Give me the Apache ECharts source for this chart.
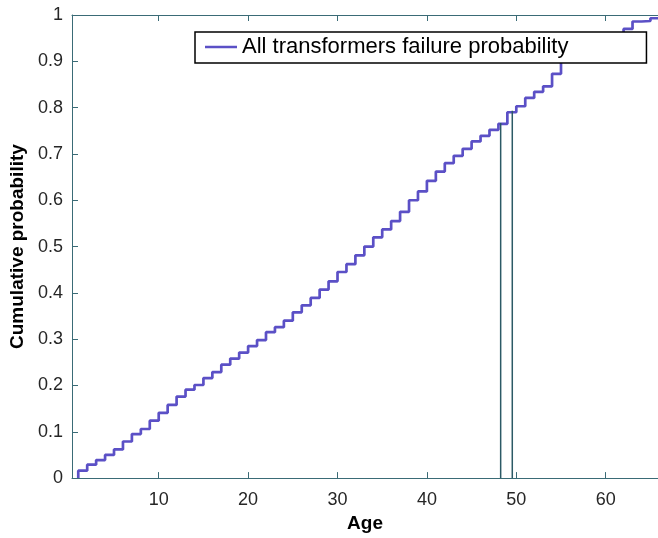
<!DOCTYPE html>
<html>
<head>
<meta charset="utf-8">
<script src="https://cdn.jsdelivr.net/npm/echarts@6/dist/echarts.min.js"></script>
<style>html,body{margin:0;padding:0;background:#fff}#c{width:658px;height:538px}</style>
</head>
<body>
<div id="c"></div>
<script>
// ---- data ----
const ages = [1,2,3,4,5,6,7,8,9,10,11,12,13,14,15,16,17,18,19,20,21,22,23,24,25,26,27,28,29,30,31,32,33,34,35,36,37,38,39,40,41,42,43,44,45,46,47,48,49,50,51,52,53,54,55,56,57,58,59,60,61,62,63,64,65,66];
const cumProb = [0.016,0.029,0.039,0.050,0.062,0.079,0.095,0.106,0.124,0.141,0.158,0.176,0.191,0.201,0.216,0.229,0.245,0.258,0.271,0.285,0.298,0.315,0.326,0.340,0.358,0.373,0.389,0.407,0.425,0.445,0.462,0.481,0.500,0.520,0.537,0.555,0.575,0.600,0.619,0.642,0.662,0.680,0.696,0.711,0.727,0.739,0.752,0.765,0.790,0.803,0.821,0.834,0.846,0.873,0.905,0.915,0.925,0.935,0.945,0.952,0.960,0.970,0.986,0.987,0.993,0.993];
const markerAges = [48.25, 49.55];
const markerTops = [0.767, 0.793];
const xTickValues = [10,20,30,40,50,60];
const seriesName = 'All transformers failure probability';

const stairData = [[ages[0], 0]].concat(ages.map((a, i) => [a, cumProb[i]]));
const font = 'Liberation Sans, Arial, sans-serif';
const axisCol = '#3a6b76';
const vlineSeries = markerAges.map((a, i) => ({
  type: 'line', symbol: 'none', silent: true,
  data: [[a, 0], [a, markerTops[i]]],
  lineStyle: { color: '#2c5a66', width: 1.5 },
  z: 3
}));

const chart = echarts.init(document.getElementById('c'));
chart.setOption({
  animation: false,
  backgroundColor: '#fff',
  grid: { left: 72, top: 15, right: 0, bottom: 56 },
  legend: {
    data: [seriesName],
    left: 195, top: 32,
    padding: [4, 78, 5, 10],
    itemWidth: 32, itemHeight: 2.5,
    icon: 'rect',
    backgroundColor: '#fff',
    borderColor: '#000', borderWidth: 1.5, borderRadius: 0,
    textStyle: { fontFamily: font, fontSize: 22, color: '#000' }
  },
  xAxis: [{
    type: 'value', min: 0.3, max: 65.85,
    name: 'Age', nameLocation: 'middle', nameGap: 35,
    nameTextStyle: { fontFamily: font, fontSize: 19, fontWeight: 'bold', color: '#000' },
    axisLine: { show: true, lineStyle: { color: axisCol, width: 1 } },
    axisTick: { show: true, inside: true, length: 6, customValues: xTickValues, lineStyle: { color: axisCol } },
    axisLabel: { customValues: xTickValues, fontFamily: font, fontSize: 18, color: '#262626', margin: 13 },
    splitLine: { show: false }
  }, {
    type: 'value', position: 'top', min: 0.3, max: 65.85,
    axisLine: { show: true, lineStyle: { color: axisCol, width: 1 } },
    axisTick: { show: true, inside: true, length: 6, customValues: xTickValues, lineStyle: { color: axisCol } },
    axisLabel: { show: false },
    splitLine: { show: false }
  }],
  yAxis: {
    type: 'value', min: 0, max: 1, interval: 0.1,
    name: 'Cumulative probability', nameLocation: 'middle', nameGap: 37,
    nameTextStyle: { fontFamily: font, fontSize: 19, fontWeight: 'bold', color: '#000' },
    axisLine: { show: true, lineStyle: { color: axisCol, width: 1 } },
    axisTick: { show: true, inside: true, length: 6, lineStyle: { color: axisCol } },
    axisLabel: { fontFamily: font, fontSize: 18, color: '#262626', margin: 9 },
    splitLine: { show: false }
  },
  series: [{
    name: seriesName, type: 'line', step: 'end', symbol: 'none',
    data: stairData,
    lineStyle: { color: '#5b50c6', width: 2.7 },
    itemStyle: { color: '#5b50c6' },
    z: 2
  }].concat(vlineSeries)
});
</script>
</body>
</html>
